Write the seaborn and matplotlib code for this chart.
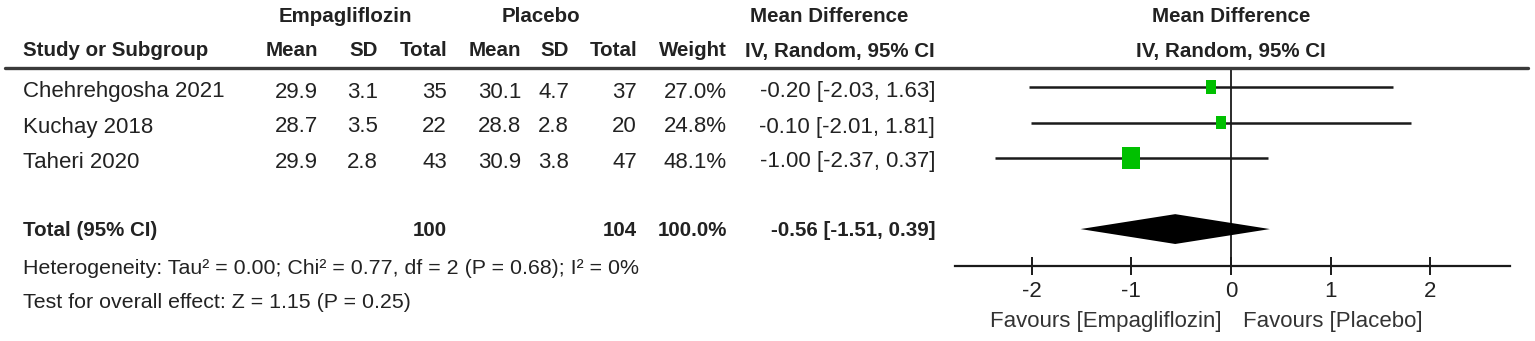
import numpy as np
import pandas as pd
import matplotlib
matplotlib.use("Agg")
import matplotlib.pyplot as plt
import matplotlib.transforms as mtransforms
from matplotlib.lines import Line2D
import seaborn as sns

# study data
studies = ["Chehrehgosha 2021", "Kuchay 2018", "Taheri 2020"]
emp_mean = [29.9, 28.7, 29.9]
emp_sd = [3.1, 3.5, 2.8]
emp_n = [35, 22, 43]
pla_mean = [30.1, 28.8, 30.9]
pla_sd = [4.7, 2.8, 3.8]
pla_n = [37, 20, 47]
weight = [27.0, 24.8, 48.1]
md = [-0.20, -0.10, -1.00]
ci_lo = [-2.03, -2.01, -2.37]
ci_hi = [1.63, 1.81, 0.37]

total_emp_n = 100
total_pla_n = 104
total_weight = 100.0
total_md = -0.56
total_lo = -1.51
total_hi = 0.39
heterogeneity = "Heterogeneity: Tau\u00b2 = 0.00; Chi\u00b2 = 0.77, df = 2 (P = 0.68); I\u00b2 = 0%"
overall = "Test for overall effect: Z = 1.15 (P = 0.25)"
xticks = [-2, -1, 0, 1, 2]

sns.set_theme(style="white")
plt.rcParams["font.family"] = ["Liberation Sans", "DejaVu Sans"]

W, H = 1535, 341
fig = plt.figure(figsize=(W / 100, H / 100), dpi=100)
TXT = "#222222"


def put(x, y, s, ha="left", bold=False, size=16):
    if bold:
        fig.text(x / W, 1 - y / H, s, ha=ha, va="center", color=TXT, fontsize=14.8,
                 fontweight="bold")
    else:
        fig.text(x / W, 1 - y / H, s, ha=ha, va="center", color=TXT, fontsize=size)


# header
put(345, 17, "Empagliflozin", "center", bold=True)
put(541, 17, "Placebo", "center", bold=True)
put(829, 17, "Mean Difference", "center", bold=True)
put(1231, 17, "Mean Difference", "center", bold=True)
cols = [(23, "Study or Subgroup", "left"), (318, "Mean", "right"), (378, "SD", "right"),
        (447, "Total", "right"), (521, "Mean", "right"), (569, "SD", "right"),
        (637, "Total", "right"), (727, "Weight", "right"), (935, "IV, Random, 95% CI", "right")]
for x, s, ha in cols:
    put(x, 51, s, ha, bold=True)
put(1231, 51, "IV, Random, 95% CI", "center", bold=True)

fig.add_artist(Line2D([5 / W, 1528 / W], [1 - 68 / H, 1 - 68 / H], color="#3a3a3a", lw=2.4))

# study rows
row_y = [92, 127, 162]
for i, y in enumerate(row_y):
    put(23, y, studies[i])
    put(318, y, f"{emp_mean[i]:.1f}", "right")
    put(378, y, f"{emp_sd[i]:.1f}", "right")
    put(447, y, f"{emp_n[i]}", "right")
    put(521, y, f"{pla_mean[i]:.1f}", "right")
    put(569, y, f"{pla_sd[i]:.1f}", "right")
    put(637, y, f"{pla_n[i]}", "right")
    put(727, y, f"{weight[i]:.1f}%", "right")
    put(935, y, f"{md[i]:.2f} [{ci_lo[i]:.2f}, {ci_hi[i]:.2f}]", "right")

put(23, 230, "Total (95% CI)", bold=True)
put(447, 230, f"{total_emp_n}", "right", bold=True)
put(637, 230, f"{total_pla_n}", "right", bold=True)
put(727, 230, f"{total_weight:.1f}%", "right", bold=True)
put(935, 230, f"{total_md:.2f} [{total_lo:.2f}, {total_hi:.2f}]", "right", bold=True)
put(23, 268, heterogeneity, size=15.4)
put(23, 303, overall, size=15.4)

# forest panel
ax = fig.add_axes([955 / W, 1 - 266 / H, (1510 - 955) / W, (266 - 68) / H])
ax.set_facecolor("none")
rows = np.arange(len(studies))
ax.hlines(rows, ci_lo, ci_hi, color="#1a1a1a", lw=1.8, zorder=2)
ax.axvline(0, color="#1a1a1a", lw=1.3, zorder=1)

df = pd.DataFrame({"md": md, "row": rows, "w2": np.square(weight)})
box = [(-0.39, -0.5), (0.39, -0.5), (0.39, 0.5), (-0.39, 0.5)]
sns.scatterplot(data=df, x="md", y="row", size="w2", sizes=(85, 270),
                size_norm=(min(weight) ** 2, max(weight) ** 2), marker=box,
                color="#00c000", edgecolor="none", legend=False, ax=ax, zorder=3)

t_row = 4
h = 0.42
ax.fill([total_lo, total_md, total_hi, total_md], [t_row, t_row - h, t_row, t_row + h],
        color="black", lw=0, zorder=3)

ax.set_xlim(-2.77, 2.80)
ax.set_ylim(5.04, -0.535)
ax.set_xticks(xticks)
ax.set_xticklabels([str(t) for t in xticks])
ax.set_yticks([])
ax.set_xlabel("")
ax.set_ylabel("")
for s in ["top", "left", "right"]:
    ax.spines[s].set_visible(False)
ax.spines["bottom"].set_color("#1a1a1a")
ax.spines["bottom"].set_linewidth(1.6)
ax.tick_params(axis="x", direction="inout", length=13, width=1.4, bottom=True,
               pad=4, labelsize=16, labelcolor=TXT, color="#1a1a1a")

tr = mtransforms.blended_transform_factory(ax.transData, fig.transFigure)
ax.text(-0.09, 1 - 322 / H, "Favours [Empagliflozin]", transform=tr, ha="right", va="center",
        fontsize=16, color="#333333")
ax.text(0.12, 1 - 322 / H, "Favours [Placebo]", transform=tr, ha="left", va="center",
        fontsize=16, color="#333333")

fig.savefig("out.png", dpi=100)
